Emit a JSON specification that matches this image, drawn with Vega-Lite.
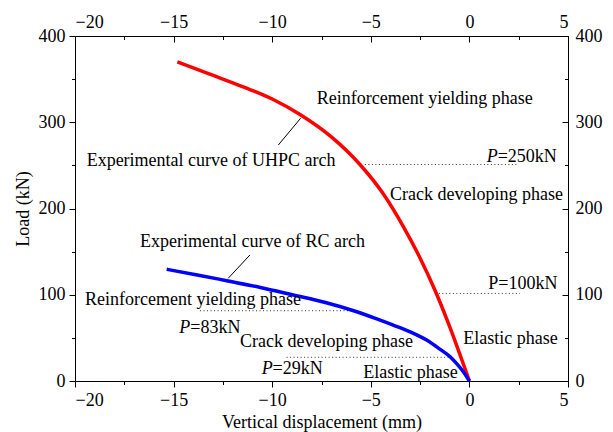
{
  "$schema": "https://vega.github.io/schema/vega-lite/v6.json",
  "width": 493,
  "height": 345,
  "autosize": {"type": "none"},
  "padding": {"left": 75, "top": 36, "right": 45, "bottom": 51},
  "background": "white",
  "config": {
    "view": {"stroke": null},
    "font": "Liberation Serif",
    "style": {
      "guide-label": {"font": "Liberation Serif", "fontSize": 18, "fill": "black"},
      "guide-title": {"font": "Liberation Serif", "fontSize": 18, "fill": "black"}
    },
    "axis": {
      "labelFont": "Liberation Serif",
      "titleFont": "Liberation Serif",
      "labelFontSize": 18,
      "titleFontSize": 18,
      "titleFontWeight": "normal",
      "labelColor": "black",
      "titleColor": "black",
      "tickColor": "black",
      "domainColor": "black",
      "domainWidth": 1,
      "tickWidth": 1,
      "grid": false
    }
  },
  "datasets": {
    "curves": [
      {"series": "UHPC", "v": 0, "L": 0},
      {"series": "UHPC", "v": -0.5, "L": 32},
      {"series": "UHPC", "v": -1.0, "L": 63},
      {"series": "UHPC", "v": -1.74, "L": 105},
      {"series": "UHPC", "v": -2.51, "L": 143},
      {"series": "UHPC", "v": -3.35, "L": 179},
      {"series": "UHPC", "v": -4.37, "L": 217},
      {"series": "UHPC", "v": -5.55, "L": 251},
      {"series": "UHPC", "v": -7.0, "L": 283},
      {"series": "UHPC", "v": -8.59, "L": 309},
      {"series": "UHPC", "v": -10.0, "L": 327},
      {"series": "UHPC", "v": -11.47, "L": 341},
      {"series": "UHPC", "v": -13.2, "L": 356},
      {"series": "UHPC", "v": -14.81, "L": 370},
      {"series": "RC", "v": 0, "L": 0},
      {"series": "RC", "v": -0.31, "L": 10.8},
      {"series": "RC", "v": -0.6, "L": 19},
      {"series": "RC", "v": -0.98, "L": 28.2},
      {"series": "RC", "v": -1.5, "L": 37},
      {"series": "RC", "v": -2.17, "L": 47.5},
      {"series": "RC", "v": -3.0, "L": 57},
      {"series": "RC", "v": -3.86, "L": 64.9},
      {"series": "RC", "v": -4.8, "L": 73},
      {"series": "RC", "v": -5.71, "L": 80.3},
      {"series": "RC", "v": -7.3, "L": 91},
      {"series": "RC", "v": -8.93, "L": 99.7},
      {"series": "RC", "v": -10.6, "L": 108.5},
      {"series": "RC", "v": -12.31, "L": 116.3},
      {"series": "RC", "v": -13.8, "L": 123},
      {"series": "RC", "v": -15.35, "L": 129.5}
    ],
    "guides": [
      {"v1": -5.3, "v2": 2.45, "L": 251},
      {"v1": -1.55, "v2": 2.56, "L": 101.5},
      {"v1": -13.66, "v2": -5.8, "L": 81.5},
      {"v1": -9.27, "v2": -0.98, "L": 27.5}
    ],
    "leaders": [
      {"v1": -9.69, "L1": 273.6, "v2": -8.56, "L2": 304.6},
      {"v1": -12.23, "L1": 119.1, "v2": -11.13, "L2": 146.1}
    ],
    "labels": [
      {"text": "Reinforcement yielding phase", "v": -7.74, "L": 321.2},
      {"text": "Experimental curve of UHPC arch", "v": -19.41, "L": 249.3},
      {"text": "=250kN", "v": 1.435, "L": 253.9},
      {"text": "Crack developing phase", "v": -4.03, "L": 209.9},
      {"text": "Experimental curve of RC arch", "v": -16.7, "L": 155},
      {"text": "Reinforcement yielding phase", "v": -19.49, "L": 88.1},
      {"text": "=83kN", "v": -14.15, "L": 56},
      {"text": "Crack developing phase", "v": -11.63, "L": 39.1},
      {"text": "=29kN", "v": -9.98, "L": 7.7},
      {"text": "Elastic phase", "v": -5.38, "L": 3.1},
      {"text": "P=100kN", "v": 0.96, "L": 106.3},
      {"text": "Elastic phase", "v": -0.31, "L": 42.9}
    ],
    "symbols": [
      {"text": "P", "v": 0.877, "L": 253.9},
      {"text": "P", "v": -14.71, "L": 56},
      {"text": "P", "v": -10.53, "L": 7.7}
    ]
  },
  "resolve": {"axis": {"x": "independent", "y": "independent"}},
  "layer": [
    {
      "data": {"name": "guides"},
      "mark": {"type": "rule", "color": "#333333", "strokeWidth": 1, "strokeDash": [1, 2.5]},
      "encoding": {
        "x": {"field": "v1", "type": "quantitative", "scale": {"domain": [-20, 5], "nice": false},
          "axis": {"orient": "top", "values": [-20, -15, -10, -5, 0, 5], "tickSize": -6, "labelPadding": 11, "labelFont": "Liberation Serif", "labelFontSize": 18, "labelColor": "black", "title": null, "domain": true}},
        "x2": {"field": "v2"},
        "y": {"field": "L", "type": "quantitative", "scale": {"domain": [0, 400], "nice": false},
          "axis": {"orient": "right", "values": [0, 100, 200, 300, 400], "tickSize": -6, "labelPadding": 13, "labelFont": "Liberation Serif", "labelFontSize": 18, "labelColor": "black", "title": null, "domain": true}}
      }
    },
    {
      "data": {"name": "leaders"},
      "mark": {"type": "rule", "color": "black", "strokeWidth": 1},
      "encoding": {
        "x": {"field": "v1", "type": "quantitative", "scale": {"domain": [-20, 5], "nice": false},
          "axis": {"orient": "bottom", "values": [-17.5, -12.5, -7.5, -2.5, 2.5], "tickSize": 3.5, "labels": false, "domain": false, "title": null}},
        "x2": {"field": "v2"},
        "y": {"field": "L1", "type": "quantitative", "scale": {"domain": [0, 400], "nice": false},
          "axis": {"orient": "left", "values": [50, 150, 250, 350], "tickSize": 3.5, "labels": false, "domain": false, "title": null}},
        "y2": {"field": "L2"}
      }
    },
    {
      "data": {"name": "curves"},
      "mark": {"type": "line", "strokeWidth": 3.5, "interpolate": "monotone"},
      "encoding": {
        "x": {"field": "v", "type": "quantitative", "scale": {"domain": [-20, 5], "nice": false},
          "axis": {"orient": "bottom", "values": [-20, -15, -10, -5, 0, 5], "tickSize": 6, "labelPadding": 4, "labelFont": "Liberation Serif", "labelFontSize": 18, "labelColor": "black", "title": "Vertical displacement (mm)", "titleFont": "Liberation Serif", "titleFontSize": 18, "titleFontWeight": "normal", "titleColor": "black", "titlePadding": 4, "domain": true}},
        "y": {"field": "L", "type": "quantitative", "scale": {"domain": [0, 400], "nice": false},
          "axis": {"orient": "left", "values": [0, 100, 200, 300, 400], "tickSize": 6, "labelPadding": 4, "labelFont": "Liberation Serif", "labelFontSize": 18, "labelColor": "black", "title": "Load (kN)", "titleFont": "Liberation Serif", "titleFontSize": 18, "titleFontWeight": "normal", "titleColor": "black", "titlePadding": 6, "domain": true}},
        "color": {"field": "series", "type": "nominal", "scale": {"domain": ["RC", "UHPC"], "range": ["#0000FF", "#FF0000"]}, "legend": null}
      }
    },
    {
      "data": {"name": "labels"},
      "mark": {"type": "text", "align": "left", "baseline": "alphabetic", "font": "Liberation Serif", "fontSize": 18, "color": "black"},
      "encoding": {
        "x": {"field": "v", "type": "quantitative", "scale": {"domain": [-20, 5], "nice": false},
          "axis": {"orient": "top", "values": [-17.5, -12.5, -7.5, -2.5, 2.5], "tickSize": -3.5, "labels": false, "domain": false, "title": null}},
        "y": {"field": "L", "type": "quantitative", "scale": {"domain": [0, 400], "nice": false},
          "axis": {"orient": "right", "values": [50, 150, 250, 350], "tickSize": -3.5, "labels": false, "domain": false, "title": null}},
        "text": {"field": "text", "type": "nominal"}
      }
    },
    {
      "data": {"name": "symbols"},
      "mark": {"type": "text", "align": "left", "baseline": "alphabetic", "font": "Liberation Serif", "fontSize": 18, "fontStyle": "italic", "color": "black"},
      "encoding": {
        "x": {"field": "v", "type": "quantitative", "scale": {"domain": [-20, 5], "nice": false}, "axis": null},
        "y": {"field": "L", "type": "quantitative", "scale": {"domain": [0, 400], "nice": false}, "axis": null},
        "text": {"field": "text", "type": "nominal"}
      }
    }
  ]
}
